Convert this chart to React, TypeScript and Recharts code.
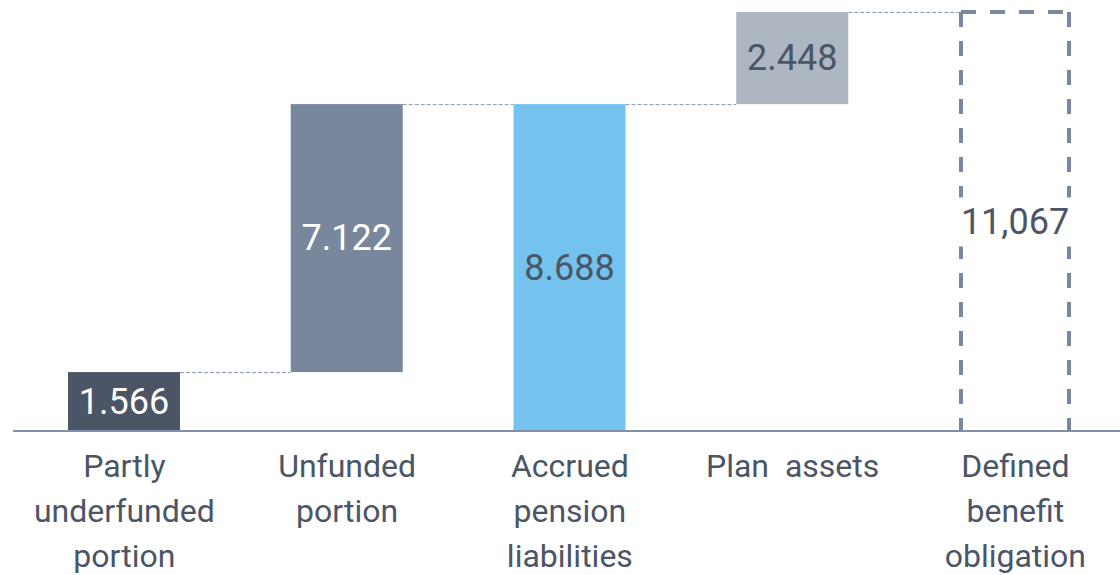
import { Bar, BarChart, XAxis, YAxis, LabelList } from "recharts"

const categories = [
  ["Partly", "underfunded", "portion"],
  ["Unfunded", "portion"],
  ["Accrued", "pension", "liabilities"],
  ["Plan  assets"],
  ["Defined", "benefit", "obligation"],
]
const bases = [0, 1.566, 0, 8.688, 0]
const values = [1.566, 7.122, 8.688, 2.448, 11.136]
const valueLabels = ["1.566", "7.122", "8.688", "2.448", "11,067"]
const barColors = ["#4b5566", "#78879c", "#73c3ee", "#adb6c1", "none"]
const labelColors = ["#ffffff", "#ffffff", "#4b5566", "#4b5566", "#4b5566"]

const data = categories.map((c, i) => ({
  name: String(i),
  base: bases[i],
  value: values[i],
}))

const CHART_W = 1140
const CHART_H = 575
const MARGIN = { top: 12, right: 13.25, left: 13, bottom: 14 }
const AXIS_H = 130
const STEP = (CHART_W - MARGIN.left - MARGIN.right) / categories.length
const Y_MAX = Math.max(...values.map((v, i) => v + bases[i]))
const FONT = "Roboto, 'Noto Sans', sans-serif"

const ValueShape = (props: any) => {
  const { x, y, width, height, index } = props
  const last = index === categories.length - 1
  if (last) {
    // outlined total, dashes start from the top corners
    const l = x + 2
    const r = x + width - 2
    const b = y + height
    const dash = { fill: "none", stroke: "#7a879c", strokeWidth: 4, strokeDasharray: "15 14" }
    return (
      <g>
        <line x1={l} y1={y} x2={r} y2={y} {...dash} />
        <line x1={l} y1={y} x2={l} y2={b} {...dash} />
        <line x1={r} y1={y} x2={r} y2={b} {...dash} />
      </g>
    )
  }
  return (
    <g>
      <rect x={x} y={y} width={width} height={height} fill={barColors[index]} />
      <line
        x1={x + width}
        x2={x + STEP}
        y1={y + 0.5}
        y2={y + 0.5}
        stroke="#8a9ab3"
        strokeWidth={1}
        strokeDasharray="4 2"
      />
    </g>
  )
}

const ValueLabel = (props: any) => {
  const { x, y, width, height, index } = props
  const last = index === categories.length - 1
  const cx = x + width / 2
  const cy = y + height / 2
  return (
    <g>
      {last && <rect x={x - 4} y={cy - 24} width={width + 8} height={49} fill="#ffffff" />}
      <text
        x={cx}
        y={cy}
        textAnchor="middle"
        dominantBaseline="central"
        fill={labelColors[index]}
        fontSize={36}
        fontFamily={FONT}
      >
        {valueLabels[index]}
      </text>
    </g>
  )
}

const CategoryTick = (props: any) => {
  const { x, y, payload } = props
  const lines = categories[Number(payload.value)]
  return (
    <text
      x={x}
      y={y}
      textAnchor="middle"
      fill="#4b5566"
      fontSize={32}
      fontFamily={FONT}
      style={{ whiteSpace: "pre" }}
    >
      {lines.map((l, i) => (
        <tspan key={i} x={x} dy={i === 0 ? 46 : 45}>
          {l}
        </tspan>
      ))}
    </text>
  )
}

export default function App() {
  return (
    <div style={{ position: "absolute", left: 0, top: 0, width: 1120, height: 575, overflow: "hidden", background: "#fff" }}>
      <BarChart width={CHART_W} height={CHART_H} data={data} margin={MARGIN} barSize={112}>
        <XAxis
          dataKey="name"
          height={AXIS_H}
          tickLine={false}
          tickSize={0}
          tickMargin={0}
          interval={0}
          axisLine={{ stroke: "#8190a8", strokeWidth: 2 }}
          tick={<CategoryTick />}
        />
        <YAxis hide domain={[0, Y_MAX]} />
        <Bar dataKey="base" stackId="a" fill="transparent" isAnimationActive={false} />
        <Bar dataKey="value" stackId="a" shape={<ValueShape />} isAnimationActive={false}>
          <LabelList dataKey="value" content={<ValueLabel />} />
        </Bar>
      </BarChart>
    </div>
  )
}
